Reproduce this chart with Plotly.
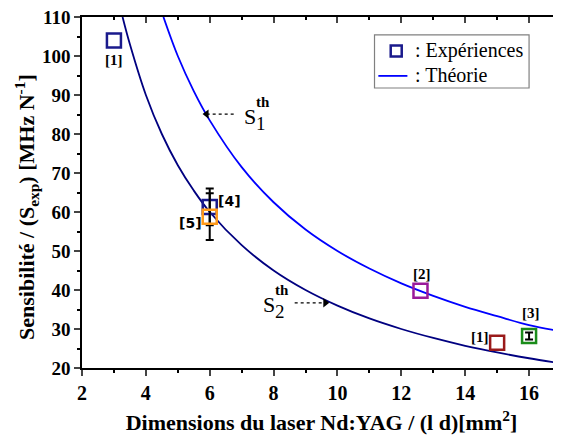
import plotly.graph_objects as go

# ---- data ----
s2_x = [3.27, 3.5, 4, 4.5, 5, 5.5, 6, 7, 8, 9, 10, 11, 12, 13, 14, 15, 16, 17]
s2_y = [110, 103, 90, 80, 72, 65.5, 60, 51.5, 45, 40, 36, 32.7, 30, 27.7, 25.7, 24, 22.5, 21.2]
s1_x = [4.55, 5, 5.5, 6, 7, 8, 9, 10, 11, 12, 13, 14, 15, 16, 17]
s1_y = [110, 100, 91, 83.5, 71.5, 62.5, 55.5, 50, 45.5, 41.7, 38.5, 35.7, 33.3, 31.0, 29.4]

exp_x = [3.0, 6.0, 6.0, 12.6, 15.0, 16.0]
exp_y = [104, 61.3, 58.8, 39.8, 26.5, 28.2]
exp_err = [0, 4.7, 6.0, 0, 0, 0.9]
exp_labels = ["[1]", "[4]", "[5]", "[2]", "[1]", "[3]"]
exp_colors = ["#1a1a8c", "#1a1a8c", "#ff9a1a", "#9a1a9a", "#9a1a1a", "#1a8c1a"]
label_x = [3.0, 6.62, 5.4, 12.65, 14.45, 16.06]
label_y = [99.0, 62.8, 57.2, 44.1, 28.0, 34.1]
label_fonts = ["Liberation Serif", "DejaVu Sans", "DejaVu Sans", "Liberation Serif", "Liberation Serif", "Liberation Serif"]

x_tickvals = [2, 4, 6, 8, 10, 12, 14, 16]
y_tickvals = [20, 30, 40, 50, 60, 70, 80, 90, 100, 110]

legend_names = [": Expériences", ": Théorie"]

# S-label arrows (tail x, head x, y)
arrow_tail_x = [6.75, 8.66]
arrow_head_x = [5.9, 9.62]
arrow_y = [85.1, 36.7]

x_range = [2, 17]
y_range = [20, 110]

fig = go.Figure()

# invisible trace to anchor mirror axes
fig.add_trace(go.Scatter(x=[2], y=[20], xaxis="x2", yaxis="y2", mode="markers",
                         marker=dict(opacity=0), showlegend=False, hoverinfo="skip"))

fig.add_trace(go.Scatter(x=s2_x, y=s2_y, mode="lines", line=dict(color="#000080", width=1.8, shape="spline"),
                         showlegend=False))
fig.add_trace(go.Scatter(x=s1_x, y=s1_y, mode="lines", line=dict(color="#0000ff", width=1.8, shape="spline"),
                         showlegend=False))

# experimental points
for i in range(len(exp_x)):
    err = dict(type="data", array=[exp_err[i]], color="black", thickness=2, width=4, visible=exp_err[i] > 0)
    fig.add_trace(go.Scatter(x=[exp_x[i]], y=[exp_y[i]], mode="markers",
                             marker=dict(symbol="square-open", size=14, color=exp_colors[i], line=dict(width=2.5)),
                             error_y=err, showlegend=False))

# point labels
for i in range(len(exp_labels)):
    fig.add_annotation(x=label_x[i], y=label_y[i], text="<b>" + exp_labels[i] + "</b>", showarrow=False,
                       font=dict(family=label_fonts[i], size=15 if label_fonts[i] != "DejaVu Sans" else 14,
                                 color="black"))

# dashed arrows for S labels
for i in range(len(arrow_y)):
    fig.add_trace(go.Scatter(x=[arrow_tail_x[i], arrow_head_x[i]], y=[arrow_y[i], arrow_y[i]], mode="lines",
                             line=dict(color="black", width=1.3, dash="dot"), showlegend=False, hoverinfo="skip"))
fig.add_trace(go.Scatter(x=arrow_head_x, y=arrow_y, mode="markers", showlegend=False, hoverinfo="skip",
                         marker=dict(symbol=["triangle-left", "triangle-right"], size=8, color="black")))

fig.add_annotation(x=7.0, y=84.6, text="S", showarrow=False, xanchor="left",
                   font=dict(family="Liberation Serif", size=22, color="black"))
fig.add_annotation(x=7.38, y=88.2, text="<b>th</b>", showarrow=False, xanchor="left",
                   font=dict(family="Liberation Serif", size=15, color="black"))
fig.add_annotation(x=7.4, y=82.8, text="1", showarrow=False, xanchor="left",
                   font=dict(family="Liberation Serif", size=19, color="black"))

fig.add_annotation(x=7.6, y=36.3, text="S", showarrow=False, xanchor="left",
                   font=dict(family="Liberation Serif", size=22, color="black"))
fig.add_annotation(x=7.98, y=39.9, text="<b>th</b>", showarrow=False, xanchor="left",
                   font=dict(family="Liberation Serif", size=15, color="black"))
fig.add_annotation(x=7.98, y=34.5, text="2", showarrow=False, xanchor="left",
                   font=dict(family="Liberation Serif", size=19, color="black"))

# hand-drawn legend box (in data coordinates of the fixed axes)
fig.add_shape(type="rect", x0=11.16, x1=16.0, y0=91.8, y1=105.4, line=dict(color="#808080", width=1.2),
              fillcolor="white", layer="below")
fig.add_trace(go.Scatter(x=[11.84], y=[101.3], mode="markers", showlegend=False, hoverinfo="skip",
                         marker=dict(symbol="square-open", size=11, color="#1a1a8c", line=dict(width=2.5))))
fig.add_shape(type="line", x0=11.28, x1=12.19, y0=94.9, y1=94.9, line=dict(color="#0000ff", width=1.8),
              layer="above")
fig.add_annotation(x=12.38, y=101.5, text=legend_names[0], showarrow=False, xanchor="left",
                   font=dict(family="Liberation Serif", size=20, color="black"))
fig.add_annotation(x=12.38, y=95.1, text=legend_names[1], showarrow=False, xanchor="left",
                   font=dict(family="Liberation Serif", size=20, color="black"))

# y-axis title as a rotated annotation
fig.add_annotation(xref="paper", yref="paper", x=-0.116, y=0.46, xanchor="center", yanchor="middle",
                   textangle=-90, showarrow=False,
                   text="<b>Sensibilité / (S<sub>exp</sub>) [MHz N<sup>-1</sup>]</b>",
                   font=dict(family="Liberation Serif", size=22, color="black"))

xtickfont = dict(family="Liberation Serif", size=20, color="black")
ytickfont = dict(family="Liberation Serif", size=19, color="black")
titlefont = dict(family="Liberation Serif", size=22, color="black", weight="bold")
fig.update_layout(
    width=553, height=433,
    margin=dict(l=74, r=0, t=9, b=73),
    paper_bgcolor="white", plot_bgcolor="white",
    showlegend=False,
    font=dict(family="Liberation Serif", color="black"),
    xaxis=dict(range=x_range, tickvals=x_tickvals, ticktext=["<b>%d</b>" % v for v in x_tickvals],
               ticks="outside", ticklen=6, tickwidth=1.5,
               showline=True, linewidth=1.5, linecolor="black", showgrid=False, zeroline=False,
               tickfont=xtickfont, automargin=False, ticklabeloverflow="allow",
               minor=dict(dtick=1, tick0=2, ticks="outside", ticklen=3, tickwidth=1.5, tickcolor="black"),
               title=dict(text="<b>Dimensions du laser Nd:YAG / (l d)[mm<sup>2</sup>]</b>",
                          font=titlefont, standoff=12)),
    xaxis2=dict(range=x_range, overlaying="x", side="top", dtick=2, tick0=2, ticks="inside", ticklen=6,
                tickwidth=1.5, showline=True, linewidth=1.5, linecolor="black", showgrid=False,
                zeroline=False, showticklabels=False, automargin=False,
                minor=dict(dtick=1, ticks="inside", ticklen=3, tickwidth=1.5, tickcolor="black")),
    yaxis=dict(range=y_range, tickvals=y_tickvals, ticktext=["<b>%d</b>" % v for v in y_tickvals],
               ticks="outside", ticklen=6, tickwidth=1.5,
               showline=True, linewidth=1.5, linecolor="black", showgrid=False, zeroline=False,
               tickfont=ytickfont, automargin=False, ticklabeloverflow="allow",
               minor=dict(dtick=5, tick0=20, ticks="outside", ticklen=3, tickwidth=1.5, tickcolor="black")),
    yaxis2=dict(range=y_range, overlaying="y", side="right", dtick=10, ticks="inside", ticklen=7,
                tickwidth=1.5, showline=False, showgrid=False, zeroline=False, showticklabels=False,
                automargin=False,
                minor=dict(dtick=5, ticks="inside", ticklen=3, tickwidth=1.5, tickcolor="black")),
)

fig.write_html("out.html")
